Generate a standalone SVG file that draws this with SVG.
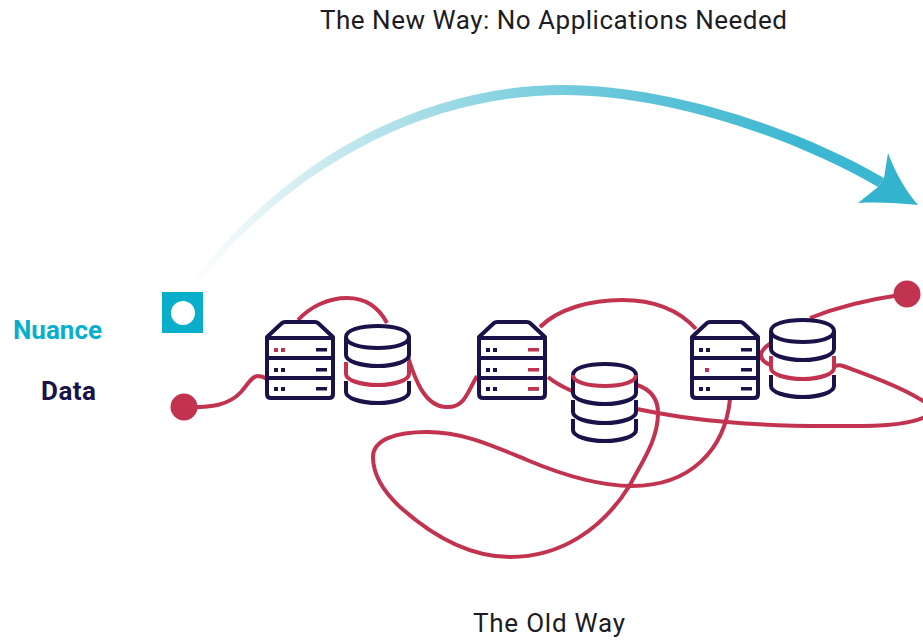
<svg xmlns="http://www.w3.org/2000/svg" width="923" height="640" viewBox="0 0 923 640">
<style>
.t{font-family:"Roboto","Liberation Sans",sans-serif;font-size:26px;fill:#1c1c22}
.b{font-family:"Roboto","Liberation Sans",sans-serif;font-size:26px;font-weight:700}
.n{fill:none;stroke:#1a1248;stroke-width:4;stroke-linejoin:round;stroke-linecap:butt}
.r{fill:none;stroke:#c1334f;stroke-width:4;stroke-linecap:butt}
.dn{fill:#1a1248}.dr{fill:#c1334f}
</style>
<defs>
<linearGradient id="g" gradientUnits="userSpaceOnUse" x1="190" y1="200" x2="880" y2="200">
<stop offset="0" stop-color="#ffffff"/><stop offset="0.2" stop-color="#c8e9ef"/><stop offset="0.45" stop-color="#88d3e1"/><stop offset="0.65" stop-color="#60c3d8"/><stop offset="0.9" stop-color="#3bb7d1"/>
</linearGradient>
<g id="srv">
<path class="n" d="M2,16 L17,2 Q18,1 20,1 L50,1 Q52,1 53,2 L68,16 V73 Q68,77 64,77 H6 Q2,77 2,73 Z M2,17 H68 M2,37 H68 M2,57 H68"/>
<rect class="dn" x="9" y="66" width="4" height="4"/><rect class="dn" x="16" y="66" width="4" height="4"/><rect class="dn" x="51" y="66" width="11" height="3.500"/>
</g>
<path id="c0" class="n" d="M1,12 C1,5 15,1 33,1 C50,1 64,5 64,12 C64,19 50,23 33,23 C15,23 1,19 1,12 Z"/>
<path id="top" class="n" d="M1,12 C1,5 15,1 33,1 C50,1 64,5 64,12"/>
<path id="a1" class="n" d="M1,12 V30 C1,36 15,41 33,41 C50,41 64,36 64,30 V12"/>
<path id="a2" class="n" d="M1,37 V49 C1,55 15,60 33,60 C50,60 64,55 64,49 V37"/>
<path id="a2r" class="r" d="M1,37 V49 C1,55 15,60 33,60 C50,60 64,55 64,49 V37"/>
<path id="a3" class="n" d="M1,56 V67 C1,73 15,78 33,78 C50,78 64,73 64,67 V56"/>
</defs>
<g id="connectors">
<path class="r" d="M184,407 C212,408 229,405 241,392 C248,384 252,376 258,376 C261,376 264,377 267,379"/>
<path class="r" d="M298,320 C311,306 329,298 347,298 C366,298 379,308 387,323"/>
<path class="r" d="M408,357 C414,376 424,408 448,407 C465,407 468,391 477,376"/>
<path class="r" d="M540,327 C558,309 590,300 622,300 C652,300 678,309 696,329"/>
<path class="r" d="M548,377 C555,383 563,387 572,391"/>
<path class="r" d="M637,385 C652,390 658,400 658,413 C658,440 642,462 630,485 C602,530 560,557 510,557 C465,557 428,532 400,507 C385,493 373,475 373,457 C373,440 395,432 427,432 C465,432 495,447 527,460 C565,476 600,486 632,486 C690,486 725,450 730,399"/>
<path class="r" d="M637,409 C665,415 690,419 727,422 C760,425 795,426 827,426 C865,426 905,427 925,417 C934,411 930,404 918,398 C895,384 862,373 843,366 C840,365 838,365 835,366"/>
<path class="r" d="M771,343 C765,347 761,351 761,355 C761,360 765,363 771,365"/>
<path class="r" d="M810,318 C835,308 865,300 900,295"/>
</g>
<g id="arrow">
<path fill="url(#g)" d="M193,281 C283,163 418,85 563,85 C665,85 792,125 884,178 L878,187 C790,136 665,95 563,95 C422,95 288,170 197,285 Z"/>
<path fill="#33b3cd" d="M888,153 C895,172 905,190 918,205 C898,203 878,202 858,203 L878,187 L884,178 Z"/>
</g>
<g id="nuance-marker">
<rect x="162" y="292" width="41" height="41" fill="#09afca"/>
<circle cx="183" cy="313" r="12" fill="#fff"/>
</g>
<g id="data-start"><circle cx="184" cy="407" r="13.500" class="dr"/></g>
<g id="data-end"><circle cx="907" cy="294" r="13.500" class="dr"/></g>
<g id="server-1" transform="translate(265,321)">
<use href="#srv"/>
<rect class="dr" x="9" y="27" width="4" height="4"/><rect class="dr" x="16" y="27" width="4" height="4"/><rect class="dn" x="51" y="27" width="11" height="3.500"/>
<rect class="dn" x="9" y="47" width="4" height="4"/><rect class="dn" x="16" y="47" width="4" height="4"/><rect class="dn" x="51" y="47" width="11" height="3.500"/>
</g>
<g id="db-1" transform="translate(345,325)">
<use href="#c0"/><use href="#a1"/><use href="#a2r"/><use href="#a3"/>
</g>
<g id="server-2" transform="translate(477,321)">
<use href="#srv"/>
<rect class="dn" x="9" y="27" width="4" height="4"/><rect class="dn" x="16" y="27" width="4" height="4"/><rect class="dr" x="51" y="27" width="11" height="3.500"/>
<rect class="dn" x="9" y="47" width="4" height="4"/><rect class="dn" x="16" y="47" width="4" height="4"/><rect class="dr" x="51" y="47" width="11" height="3.500"/>
<rect class="dr" x="51" y="66" width="11" height="3.500"/>
</g>
<g id="db-2" transform="translate(572,363)">
<use href="#top"/><use href="#a1"/><use href="#a2"/><use href="#a3"/>
<path class="r" d="M1,12 C1,19 15,23 33,23 C50,23 64,19 64,12"/>
</g>
<g id="server-3" transform="translate(690,321)">
<use href="#srv"/>
<rect class="dn" x="9" y="27" width="4" height="4"/><rect class="dn" x="16" y="27" width="4" height="4"/><rect class="dn" x="51" y="27" width="11" height="3.500"/>
<rect class="dr" x="15" y="47" width="4" height="4"/><rect class="dn" x="51" y="47" width="11" height="3.500"/>
</g>
<g id="db-3" transform="translate(770,319)">
<use href="#c0"/><use href="#a1"/><use href="#a2r"/><use href="#a3"/>
</g>
<g id="labels">
<text class="t" x="320" y="29" textLength="467">The New Way: No Applications Needed</text>
<text class="t" x="473" y="632" textLength="152">The Old Way</text>
<text class="b" x="13" y="339" fill="#09afca" textLength="89">Nuance</text>
<text class="b" x="41" y="400" fill="#1a1248" textLength="55">Data</text>
</g>
</svg>
